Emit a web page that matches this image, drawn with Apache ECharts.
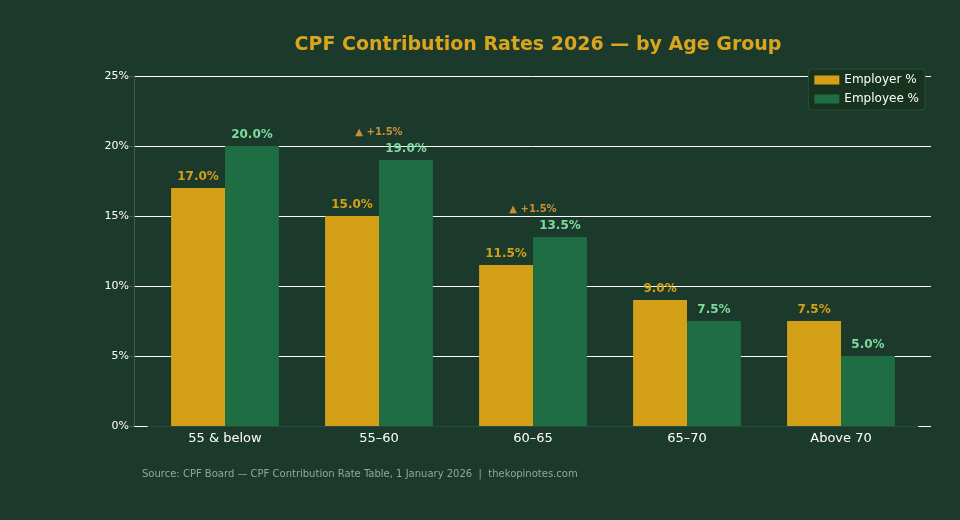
<!DOCTYPE html>
<html><head><meta charset="utf-8">
<script src="https://cdn.jsdelivr.net/npm/echarts@6/dist/echarts.min.js"></script>
<style>html,body{margin:0;padding:0;background:#1b3a2c}#c{width:960px;height:520px}</style>
</head><body><div id="c"></div>
<script>
const categories = ['55 & below','55–60','60–65','65–70','Above 70'];
const employer = [17.0,15.0,11.5,9.0,7.5];
const employee = [20.0,19.0,13.5,7.5,5.0];
const noteCats = ['55–60','60–65'];
const noteVals = [21.0,15.5];
const noteText = '▲ +1.5%';
const yTicks = [0,5,10,15,20,25];

const chart = echarts.init(document.getElementById('c'));
chart.setOption({
  backgroundColor:'#1b3a2c',
  animation:false,
  title:{text:'CPF Contribution Rates 2026 — by Age Group',left:533,top:31,textAlign:'center',
    textStyle:{color:'#d9a51c',fontSize:19,fontWeight:'bold',fontFamily:'DejaVu Sans'}},
  legend:{data:['Employer %','Employee %'],right:35,top:69,orient:'vertical',itemWidth:25,itemHeight:9,itemGap:7,icon:'rect',
    backgroundColor:'#17321f',borderColor:'#2e4d3c',borderWidth:1,borderRadius:3,padding:[5,6],
    textStyle:{color:'#ffffff',fontSize:12,fontFamily:'DejaVu Sans'}},
  grid:[{left:134,right:29,top:76,bottom:94},{left:148,right:42,top:76,bottom:94}],
  xAxis:[
    {gridIndex:0,type:'value',min:0,max:1,show:false},
    {gridIndex:1,type:'category',data:categories,axisTick:{show:false},
    axisLine:{lineStyle:{color:'#2a4a3a'}},
    axisLabel:{color:'#ffffff',fontSize:13,margin:6,fontFamily:'DejaVu Sans'}}],
  yAxis:[
    {gridIndex:0,type:'value',min:yTicks[0],max:yTicks[yTicks.length-1],interval:5,
    axisLabel:{color:'#ffffff',fontSize:11,formatter:'{value}%',margin:5,fontFamily:'DejaVu Sans'},
    splitLine:{lineStyle:{color:'#ffffff',width:1}}},
    {gridIndex:1,type:'value',min:yTicks[0],max:yTicks[yTicks.length-1],interval:5,show:false,splitLine:{show:false}}],
  series:[
    {name:'Employer %',type:'bar',xAxisIndex:1,yAxisIndex:1,data:employer,barGap:'0%',barCategoryGap:'30%',
      itemStyle:{color:'#d4a017'},
      label:{show:true,position:'top',formatter:p=>p.value.toFixed(1)+'%',color:'#d4a017',fontWeight:'bold',fontSize:12,fontFamily:'DejaVu Sans'}},
    {name:'Employee %',type:'bar',xAxisIndex:1,yAxisIndex:1,data:employee,
      itemStyle:{color:'#1f6e43'},
      label:{show:true,position:'top',formatter:p=>p.value.toFixed(1)+'%',color:'#7fd9a0',fontWeight:'bold',fontSize:12,fontFamily:'DejaVu Sans'}},
    {name:'note',type:'scatter',xAxisIndex:1,yAxisIndex:1,symbolSize:0,data:noteCats.map((c,i)=>[c,noteVals[i]]),
      label:{show:true,position:'inside',formatter:noteText,color:'#f5a53a',fontSize:10,fontWeight:'bold',fontFamily:'DejaVu Sans'},
      tooltip:{show:false}}
  ],
  graphic:[{type:'text',left:142,top:469,style:{text:'Source: CPF Board — CPF Contribution Rate Table, 1 January 2026  |  thekopinotes.com',
    fill:'#8fa89a',fontSize:10,fontFamily:'DejaVu Sans'}}]
});
</script></body></html>
